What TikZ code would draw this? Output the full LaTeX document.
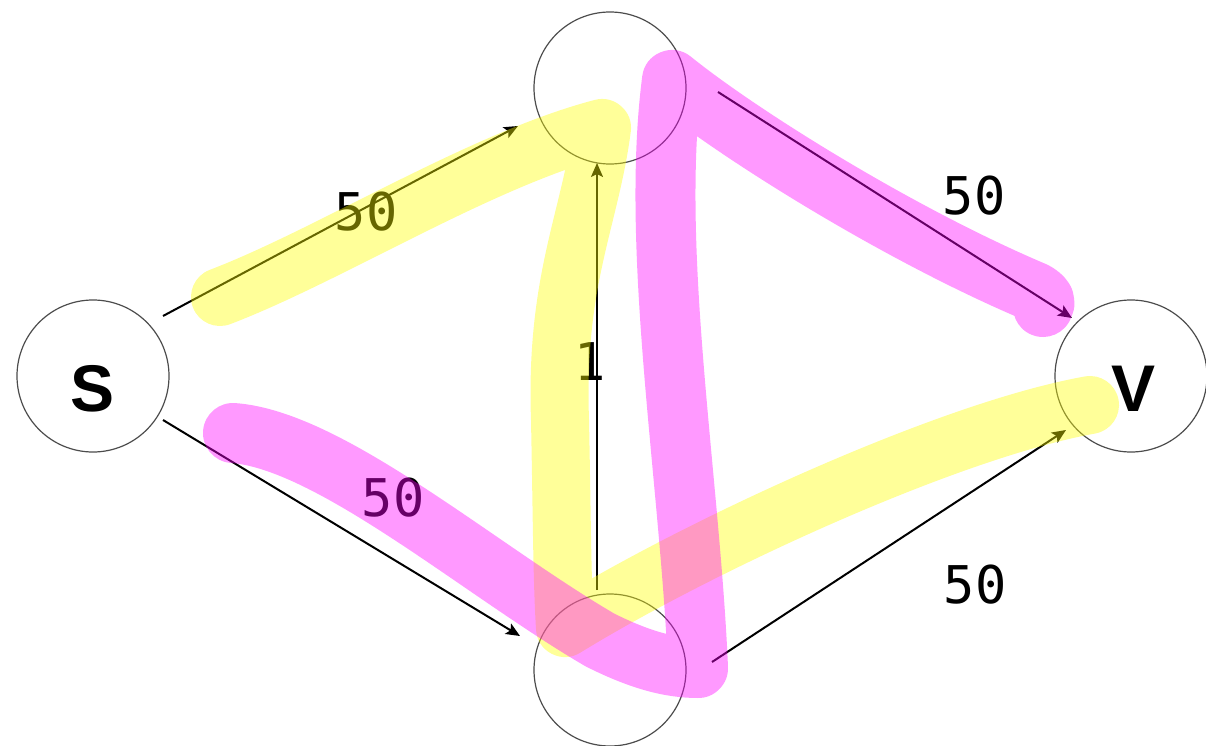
\documentclass[tikz,border=0pt]{standalone}
\usepackage{fontspec}
\newfontfamily\monof{DejaVu Sans Mono}
\newfontfamily\capf{Liberation Sans}
\usetikzlibrary{arrows.meta}
\definecolor{hly}{RGB}{255,255,0}
\definecolor{hlm}{RGB}{255,0,255}
\tikzset{
  vert/.style={circle, draw=black!70, line width=1.2pt, minimum size=152pt, inner sep=0pt},
  vname/.style={font=\capf\bfseries\fontsize{66}{66}\selectfont, inner sep=0pt},
  edge/.style={line width=2pt, -{Stealth[length=14pt,width=12pt,inset=3pt]}},
  wt/.style={font=\monof\fontsize{52}{52}\selectfont, inner sep=0pt},
  hy/.style={line width=58pt, hly, opacity=0.4, line cap=round, line join=round},
  hm/.style={line width=60pt, hlm, opacity=0.4, line cap=round, line join=round}
}
\begin{document}
\begin{tikzpicture}[x=1pt, y=-1pt]
\useasboundingbox (0,0) rectangle (1206,746);
% vertices
\node[vert] (s) at (93,376) {};
\node[vert] (t) at (610,88) {};
\node[vert] (b) at (610,670) {};
\node[vert] (v) at (1131,376) {};
\node[vname] (sl) at (93,389) {S};
\node[vname] (vl) at (1133,389) {V};
% arrow end points
\coordinate (st1) at (163,316); \coordinate (st2) at (518,126);
\coordinate (sb1) at (163,420); \coordinate (sb2) at (520,636);
\coordinate (bt1) at (597,590); \coordinate (bt2) at (597,163);
\coordinate (tv1) at (718,92);  \coordinate (tv2) at (1072,318);
\coordinate (bv1) at (712,662); \coordinate (bv2) at (1066,430);
\draw[edge] (st1) -- (st2);
\draw[edge] (sb1) -- (sb2);
\draw[edge] (bt1) -- (bt2);
\draw[edge] (tv1) -- (tv2);
\draw[edge] (bv1) -- (bv2);
% weights
\node[wt] (w1) at (366,212) {50};
\node[wt] (w2) at (393,498) {50};
\node[wt] (w3) at (590,362) {1};
\node[wt] (w4) at (974,196) {50};
\node[wt] (w5) at (975,585) {50};
% highlights
\draw[hy] (220,297) .. controls (330,255) and (480,160) .. (602,128)
  .. controls (590,220) and (555,280) .. (560,420)
  .. controls (562,520) and (562,580) .. (565,628)
  .. controls (700,545) and (950,430) .. (1090,405);
\draw[hm] (233,433) .. controls (330,440) and (480,570) .. (600,640)
  .. controls (640,660) and (670,668) .. (698,668)
  .. controls (690,480) and (650,250) .. (672,80)
  .. controls (740,135) and (900,235) .. (1035,292)
  .. controls (1045,298) and (1046,302) .. (1043,307);
\end{tikzpicture}
\end{document}
